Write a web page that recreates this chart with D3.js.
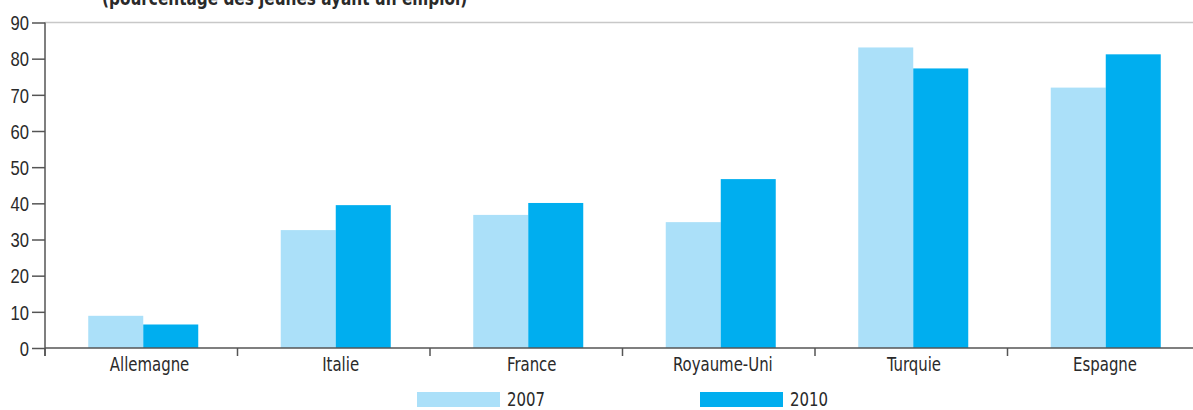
<!DOCTYPE html>
<html>
<head>
<meta charset="utf-8">
<script src="https://cdn.jsdelivr.net/npm/d3@7"></script>
<style>
  body { margin: 0; background: #fff; }
  svg { display: block; font-family: "DejaVu Sans Condensed", "DejaVu Sans", sans-serif; }
</style>
</head>
<body>
<svg id="chart" width="1193" height="410"></svg>
<script>
// Données : jeunes ayant un emploi temporaire (%)
const countries = ['Allemagne', 'Italie', 'France', 'Royaume-Uni', 'Turquie', 'Espagne'];
const years = ['2007', '2010'];
const values2007 = [8.9, 32.6, 36.8, 34.8, 83.1, 72.0];
const values2010 = [6.5, 39.5, 40.1, 46.7, 77.3, 81.2];
const yTicks = [0, 10, 20, 30, 40, 50, 60, 70, 80, 90];

const COLORS = { '2007': '#abe0f9', '2010': '#00aeef' };
const C_AXIS = '#555';
const C_TEXT = '#2a2a2a';
const FS = 20;      // taille de police
const SX = 0.83;    // compression horizontale (police étroite)

const W = 1193, H = 410;
const mLeft = 45, mRight = 1200, mTop = 22.5, mBottom = 348;

const svg = d3.select('#chart');

const x = d3.scaleBand().domain(countries).range([mLeft, mRight]);
const xLbl = d3.scaleBand().domain(countries).range([54, 1200.6]); // libellés légèrement décalés
const xs = d3.scaleBand().domain(years).range([0, 110]);
const y = d3.scaleLinear().domain([0, 90]).range([mBottom, mTop]);

// texte compressé horizontalement
function narrowText(sel, tx, ty, sx = SX) {
  return sel.attr('transform', `translate(${tx},${ty}) scale(${sx},1)`);
}

// titre (coupé en haut)
narrowText(svg.append('text'), 102, 5, 0.85)
  .attr('font-weight', 'bold').attr('font-size', FS).attr('fill', C_TEXT)
  .text('(pourcentage des jeunes ayant un emploi)');

// ligne de 90
svg.append('line')
  .attr('x1', mLeft).attr('x2', W)
  .attr('y1', y(90)).attr('y2', y(90))
  .attr('stroke', '#c8c8c8').attr('stroke-width', 1.5);

// barres
const rows = countries.map((c, i) => ({ c, vals: [values2007[i], values2010[i]] }));
const grp = svg.append('g').selectAll('g')
  .data(rows).join('g')
  .attr('transform', d => `translate(${x(d.c) + x.bandwidth() / 2 - 55 + 2},0)`);
grp.selectAll('rect')
  .data(d => d.vals.map((v, k) => ({ year: years[k], v })))
  .join('rect')
  .attr('x', d => xs(d.year))
  .attr('width', xs.bandwidth())
  .attr('y', d => y(d.v))
  .attr('height', d => y(0) - y(d.v))
  .attr('fill', d => COLORS[d.year]);

// axe Y
const yAxis = svg.append('g')
  .attr('transform', `translate(${mLeft},0)`)
  .call(d3.axisLeft(y).tickValues(yTicks).tickSize(13).tickPadding(3));
yAxis.select('.domain').attr('stroke', C_AXIS).attr('stroke-width', 1.5)
  .attr('d', `M0,${y(90)}V${y(0) + 8}`);
yAxis.selectAll('.tick line').attr('stroke', C_AXIS).attr('stroke-width', 1.5);
yAxis.selectAll('.tick text')
  .attr('font-size', FS).attr('fill', C_TEXT)
  .attr('x', -16 / SX).attr('dy', '0.36em')
  .attr('transform', `scale(${SX},1)`);

// axe X
const xAxis = svg.append('g')
  .attr('transform', `translate(0,${mBottom})`);
xAxis.append('line')
  .attr('x1', mLeft).attr('x2', W)
  .attr('stroke', C_AXIS).attr('stroke-width', 1.5);
xAxis.selectAll('.sep')
  .data(countries).join('line')
  .attr('class', 'sep')
  .attr('x1', d => x(d)).attr('x2', d => x(d))
  .attr('y1', 0).attr('y2', 8)
  .attr('stroke', C_AXIS).attr('stroke-width', 1.5);
xAxis.selectAll('.lbl')
  .data(countries).join('text')
  .attr('class', 'lbl')
  .attr('transform', d => `translate(${xLbl(d) + xLbl.bandwidth() / 2},22.7) scale(${SX},1)`)
  .attr('text-anchor', 'middle')
  .attr('font-size', FS).attr('fill', C_TEXT)
  .text(d => d);

// légende
const legX = [417, 700];
const leg = svg.append('g').selectAll('g')
  .data(years).join('g')
  .attr('transform', (d, i) => `translate(${legX[i]},392)`);
leg.append('rect').attr('width', 83).attr('height', 15).attr('fill', d => COLORS[d]);
leg.append('text')
  .attr('transform', `translate(90,14) scale(${SX},1)`)
  .attr('font-size', FS).attr('fill', C_TEXT).text(d => d);
</script>
</body>
</html>
